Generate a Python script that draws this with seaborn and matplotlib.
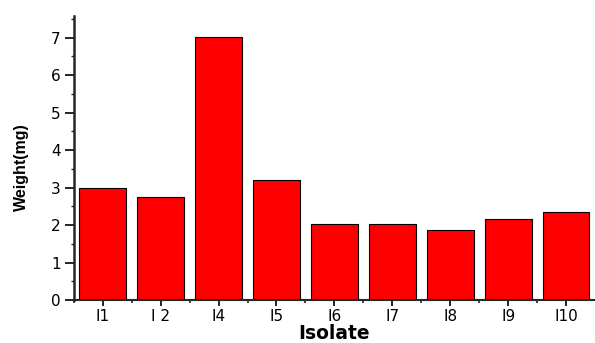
import numpy as np
import pandas as pd
import seaborn as sns
import matplotlib.pyplot as plt
from matplotlib.ticker import MultipleLocator

isolates = ["I1", "I 2", "I4", "I5", "I6", "I7", "I8", "I9", "I10"]
weights = [2.98, 2.76, 7.02, 3.2, 2.02, 2.02, 1.88, 2.16, 2.36]

sns.set_style("ticks")
plt.rcParams['font.family'] = ['DejaVu Sans']

df = pd.DataFrame({"Isolate": isolates, "Weight": weights})

fig = plt.figure(figsize=(5.95, 3.43), dpi=100)
ax = fig.add_axes([0.124, 0.125, 0.876, 0.828])
sns.barplot(data=df, x="Isolate", y="Weight", color="#ff0000", saturation=1,
            width=0.81, edgecolor="black", linewidth=0.8, ax=ax)

ax.set_xlim(-0.5, len(isolates) - 0.5)
ax.set_ylim(0, 7.57)
ax.yaxis.set_major_locator(MultipleLocator(1))
ax.yaxis.set_minor_locator(MultipleLocator(0.5))
ax.set_xticks(np.arange(len(isolates)))
ax.set_xticks(np.arange(len(isolates)) - 0.5, minor=True)
ax.tick_params(axis="both", which="major", width=1.2, labelsize=11, colors="black")
ax.tick_params(axis="y", which="major", length=6.5, pad=3)
ax.tick_params(axis="x", which="major", length=4.5, pad=2)
ax.tick_params(axis="y", which="minor", length=2.5, width=1)
ax.tick_params(axis="x", which="minor", length=2.2, width=1.2)

sns.despine(ax=ax)
ax.spines["left"].set_linewidth(1.8)
ax.spines["bottom"].set_linewidth(1.5)

ax.set_xlabel("Isolate", fontsize=13.5, fontweight="bold", labelpad=0, color="black")
ax.set_ylabel("Weight(mg)", fontsize=11.5, fontweight="bold",
              family="Liberation Sans", color="black")
ax.yaxis.set_label_coords(-0.086, 0.47)

fig.savefig("out.png", dpi=100)
